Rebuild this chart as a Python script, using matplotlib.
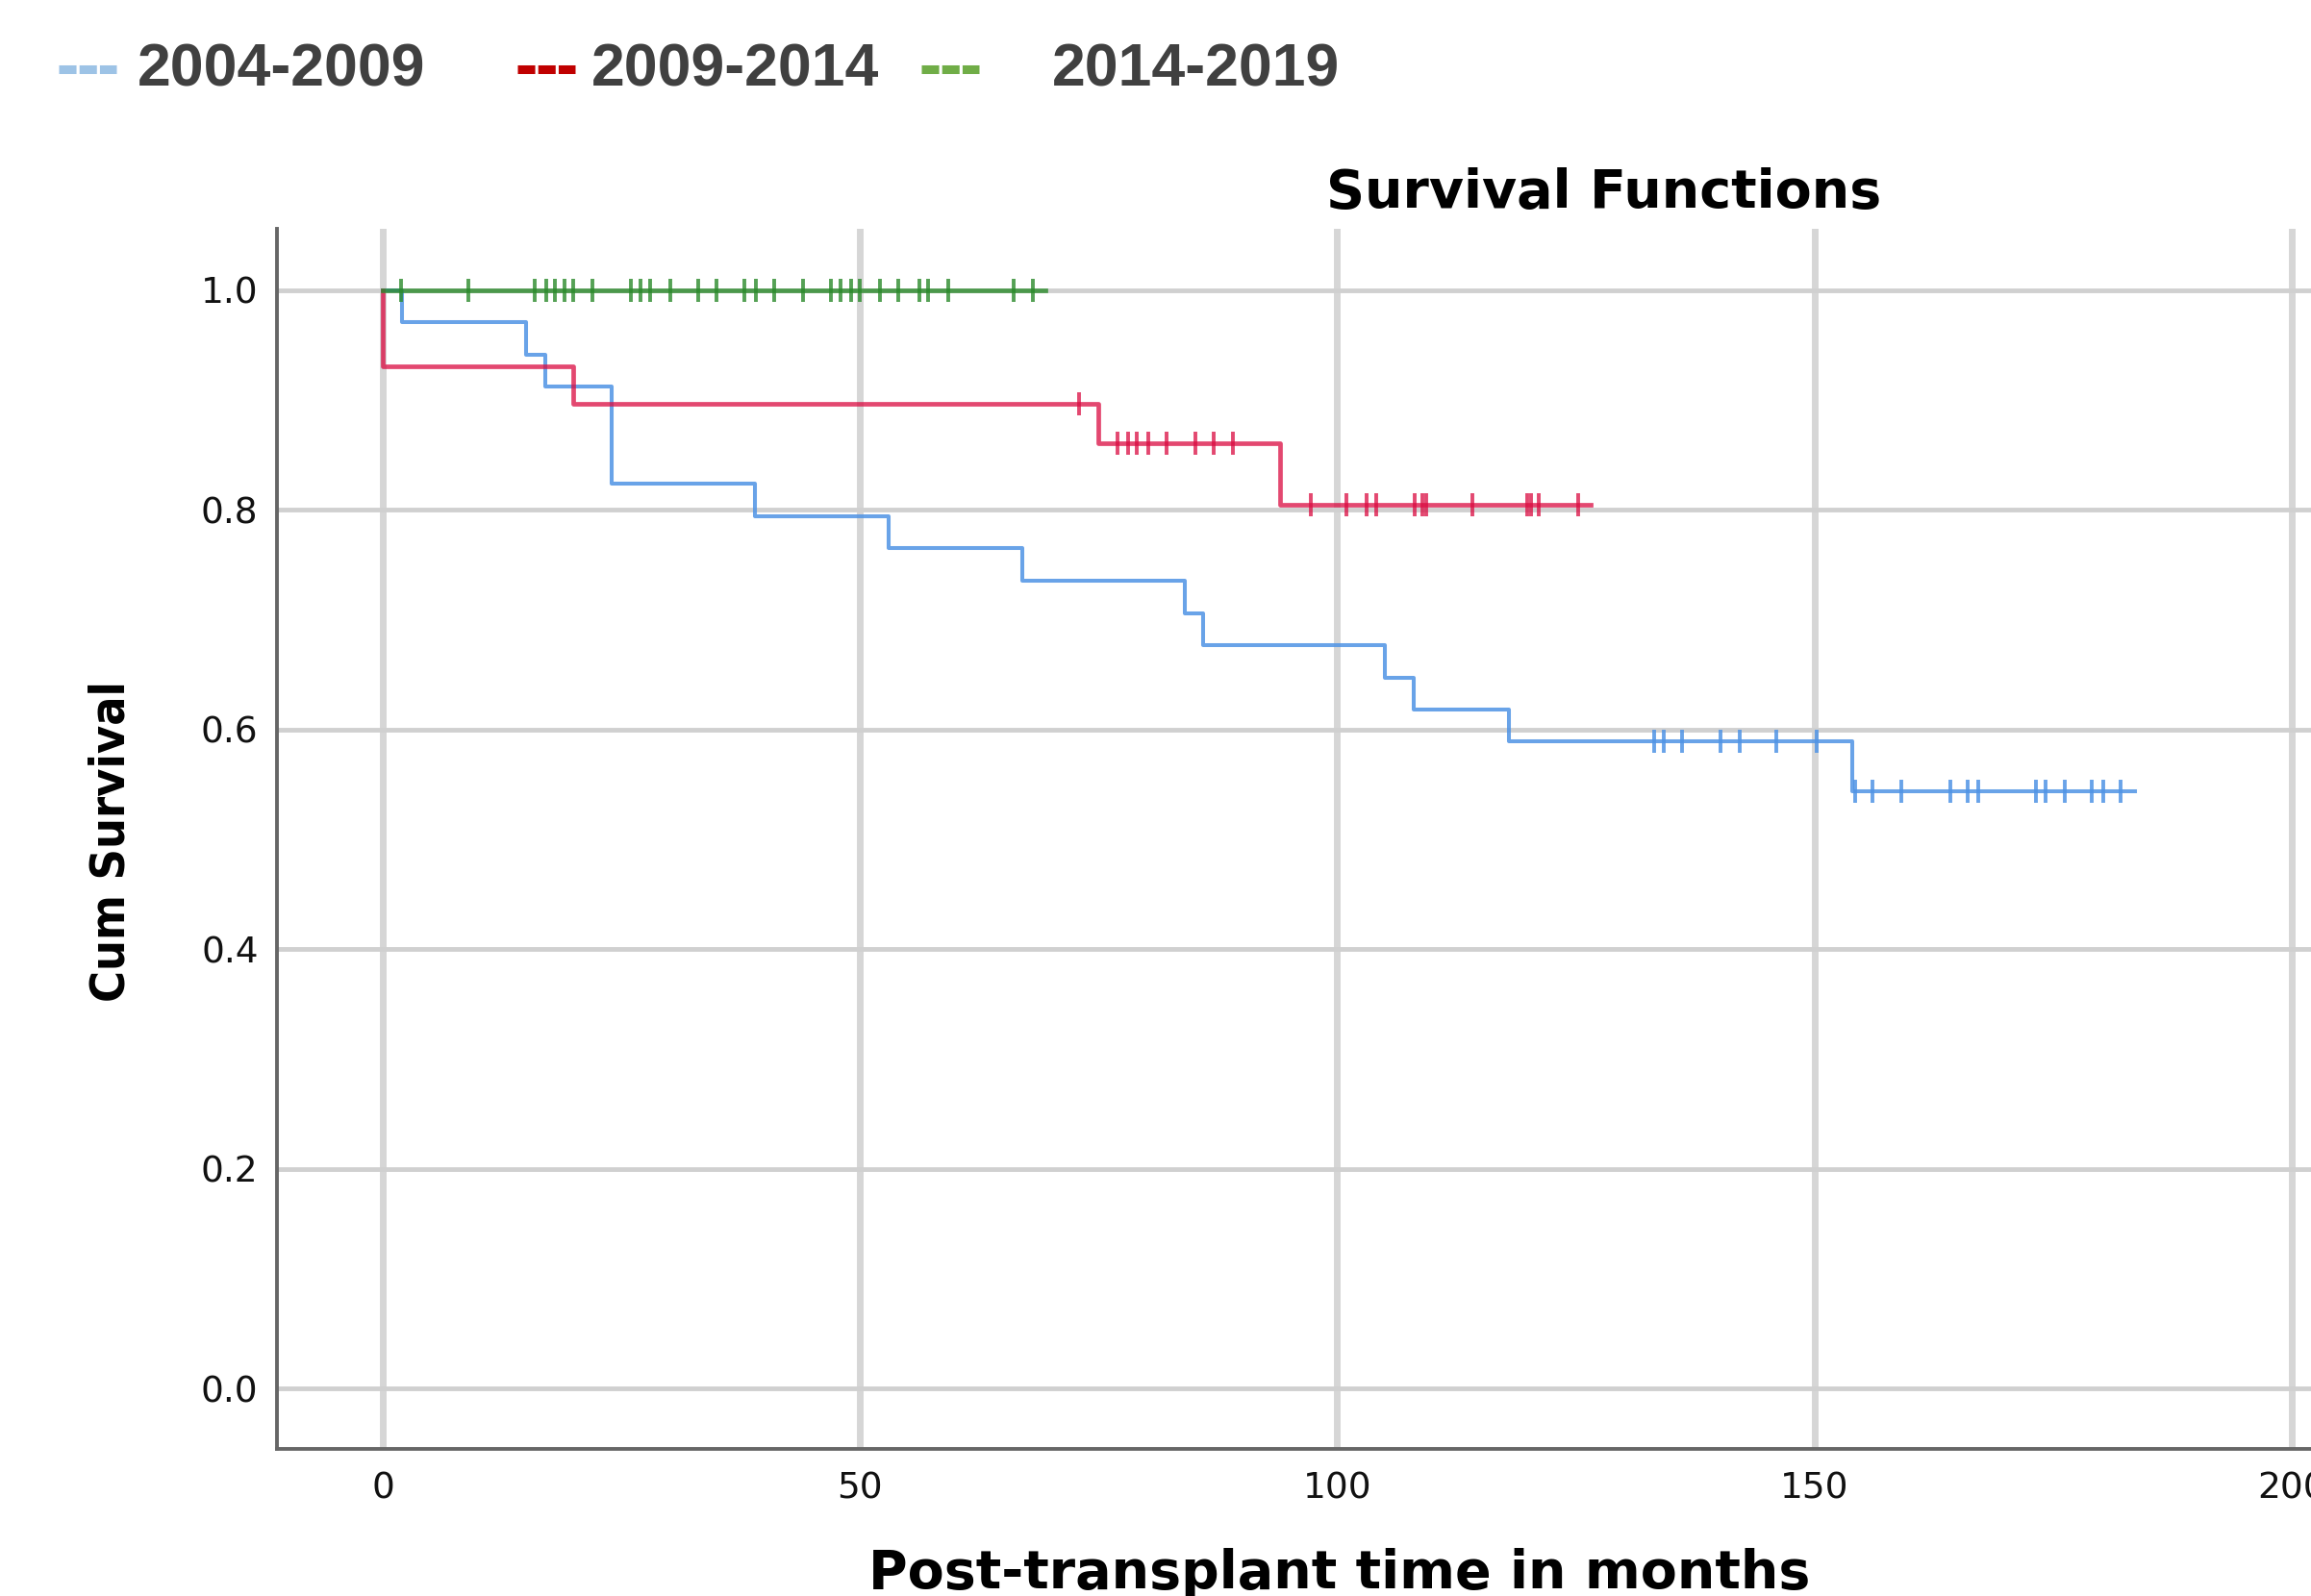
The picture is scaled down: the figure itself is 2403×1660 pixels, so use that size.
import numpy as np
import matplotlib
matplotlib.use("Agg")
import matplotlib.pyplot as plt
from matplotlib.lines import Line2D

# Kaplan-Meier curves
# 2004-2009
blue_t = [0, 2, 15, 17, 24, 39, 53, 67, 84, 86, 105, 108, 118, 154, 183.6]
blue_s = [1.0, 0.971, 0.941, 0.912, 0.824, 0.794, 0.765, 0.736, 0.706, 0.677,
          0.647, 0.618, 0.589, 0.544, 0.544]
blue_cens = [133.2, 134.2, 136.1, 140.2, 142.2, 146.0, 150.2, 154.3, 156.1,
             159.1, 164.2, 166.1, 167.2, 173.2, 174.2, 176.2, 179.1, 180.3, 182.1]

# 2009-2014
red_t = [0, 0, 20, 75, 94, 126.6]
red_s = [1.0, 0.931, 0.897, 0.861, 0.805, 0.805]
red_cens = [73, 77, 78.1, 79, 80.2, 82.1, 85.1, 87.1, 89.1, 97.2, 101, 103.1,
            104.1, 108.1, 108.9, 109.3, 114.2, 119.9, 120.3, 121.1, 125.2]

# 2014-2019
green_t = [0, 69.4]
green_s = [1.0, 1.0]
green_cens = [1.9, 9.0, 15.9, 17.1, 18.0, 19.0, 20.0, 22.0, 26.0, 27.0, 28.0,
              30.1, 33.1, 35.0, 37.9, 39.1, 41.0, 44.0, 47.0, 48.0, 49.1, 50.0,
              52.1, 54.0, 56.2, 57.1, 59.2, 66.1, 68.1]

labels = ["2004-2009", "2009-2014", "2014-2019"]
legend_colors = ["#9DC3E6", "#C00000", "#70AD47"]

W, H = 2403, 1660
fig = plt.figure(figsize=(W / 100, H / 100), dpi=100)

# axes run past the right edge of the picture, like the cropped original
ax = fig.add_axes([288 / W, 1 - 1507 / H, (2503 - 288) / W, (1507 - 238) / H])
ax.set_xlim(-11.08, 212.1)
ax.set_ylim(-0.055, 1.056)


def km(t, s, cens, color, lw, alpha):
    ax.step(t, s, where="post", color=color, lw=lw, alpha=alpha, zorder=3)
    idx = np.searchsorted(t, cens, side="right") - 1
    ys = np.array(s)[idx]
    ax.plot(cens, ys, ls="none", marker="|", ms=17, mew=2.8,
            color=color, alpha=alpha, zorder=4)


km(blue_t, blue_s, blue_cens, "#4F93E5", 2.9, 0.85)
km(red_t, red_s, red_cens, "#DA0A40", 3.4, 0.75)
km(green_t, green_s, green_cens, "#2A8A2A", 3.4, 0.8)

ax.set_xticks([0, 50, 100, 150, 200])
ax.set_yticks([0.0, 0.2, 0.4, 0.6, 0.8, 1.0])
ax.set_yticklabels(["0.0", "0.2", "0.4", "0.6", "0.8", "1.0"])
ax.tick_params(axis="both", length=0, labelsize=27, labelcolor="#111111")
ax.tick_params(axis="x", pad=17)
ax.tick_params(axis="y", pad=14)

ax.grid(axis="x", color="#D6D6D6", lw=5)
ax.grid(axis="y", color="#D0D0D0", lw=3.5)
ax.set_axisbelow(True)

for side in ["top", "right"]:
    ax.spines[side].set_visible(False)
for side in ["left", "bottom"]:
    ax.spines[side].set_color("#666666")
    ax.spines[side].set_linewidth(2.8)

fig.text(1668 / W, 1 - 216 / H, "Survival Functions", ha="center", va="baseline",
         fontsize=40, fontweight="bold", family="DejaVu Sans")
fig.text(1393 / W, 1 - 1652 / H, "Post-transplant time in months", ha="center",
         va="baseline", fontsize=40, fontweight="bold", family="DejaVu Sans")
fig.text(115 / W, 1 - 875 / H, "Cum Survival", ha="center", va="center",
         rotation=90, fontsize=36, fontweight="bold", family="DejaVu Sans",
         fontstretch="condensed")

# legend along the top
mark_x = [61, 538, 958]
text_x = [143, 615, 1094]
for lab, col, mx, tx in zip(labels, legend_colors, mark_x, text_x):
    fig.add_artist(Line2D([mx / W, (mx + 60) / W], [1 - 72 / H, 1 - 72 / H],
                          transform=fig.transFigure, color=col, lw=6.5,
                          ls=(0, (2.0, 0.35)), solid_capstyle="butt",
                          dash_capstyle="butt"))
    fig.text(tx / W, 1 - 90 / H, lab, ha="left", va="baseline", fontsize=45,
             fontweight="bold", family="Liberation Sans", color="#404040")

fig.savefig("out.png", dpi=100)
